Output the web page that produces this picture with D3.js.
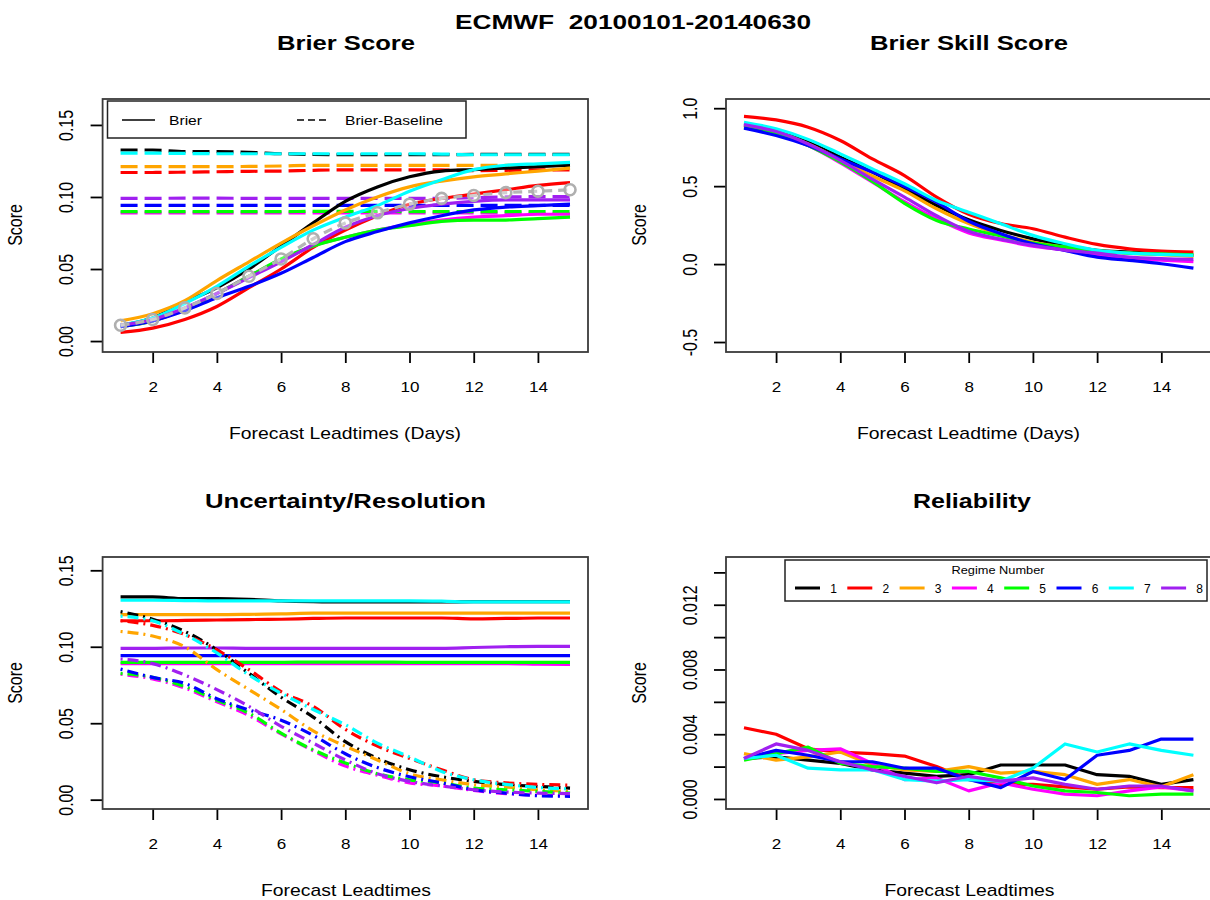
<!DOCTYPE html>
<html><head><meta charset="utf-8">
<script src="https://cdn.jsdelivr.net/npm/d3@7"></script>
<style>
body{margin:0;background:#fff}
svg{display:block}
text{font-family:"Liberation Sans",Arial,Helvetica,sans-serif;fill:#000}
</style>
</head><body>
<svg id="chart" width="1210" height="900"></svg>
<script>
// ---------------- DATA ----------------
const leadDays = [1,2,3,4,5,6,7,8,9,10,11,12,13,14,15];
const xTickValues = [2,4,6,8,10,12,14];
const regimeNames = ["1","2","3","4","5","6","7","8"];
const regimeColors = ["#000000","#FF0000","#FFA500","#FF00FF","#00FF00","#0000FF","#00FFFF","#A020F0"];

// Brier score (solid, top-left)
const brier1 = [0.011,0.016,0.027,0.037,0.050,0.066,0.082,0.097,0.107,0.114,0.118,0.119,0.120,0.121,0.122];
const brier2 = [0.006,0.009,0.015,0.024,0.037,0.050,0.065,0.077,0.087,0.095,0.099,0.102,0.105,0.108,0.110];
const brier3 = [0.014,0.019,0.028,0.042,0.055,0.068,0.080,0.091,0.100,0.107,0.111,0.114,0.116,0.118,0.120];
const brier4 = [0.010,0.014,0.022,0.033,0.045,0.056,0.066,0.072,0.077,0.081,0.084,0.086,0.087,0.088,0.088];
const brier5 = [0.010,0.014,0.022,0.033,0.045,0.057,0.066,0.072,0.077,0.080,0.083,0.084,0.084,0.085,0.086];
const brier6 = [0.010,0.014,0.021,0.030,0.038,0.047,0.058,0.069,0.076,0.082,0.087,0.091,0.093,0.094,0.095];
const brier7 = [0.011,0.016,0.026,0.038,0.052,0.065,0.077,0.086,0.094,0.104,0.112,0.119,0.122,0.123,0.124];
const brier8 = [0.011,0.015,0.023,0.033,0.044,0.055,0.067,0.079,0.087,0.092,0.095,0.097,0.098,0.098,0.098];
const brierMean = [0.011,0.015,0.023,0.033,0.045,0.057,0.071,0.082,0.089,0.095,0.099,0.101,0.103,0.104,0.105];

// Uncertainty = Brier-Baseline (dashed top-left, solid bottom-left)
const unc1 = [0.1326,0.1326,0.1315,0.1315,0.1310,0.1300,0.1295,0.1293,0.1293,0.1293,0.1293,0.1295,0.1295,0.1295,0.1295];
const unc2 = [0.1170,0.1170,0.1172,0.1175,0.1178,0.1180,0.1185,0.1188,0.1188,0.1188,0.1188,0.1182,0.1185,0.1188,0.1188];
const unc3 = [0.1210,0.1210,0.1210,0.1210,0.1212,0.1215,0.1220,0.1220,0.1220,0.1220,0.1220,0.1220,0.1220,0.1220,0.1220];
const unc4 = [0.0890,0.0890,0.0890,0.0890,0.0890,0.0890,0.0890,0.0890,0.0890,0.0890,0.0890,0.0890,0.0890,0.0887,0.0885];
const unc5 = [0.0898,0.0898,0.0898,0.0898,0.0898,0.0898,0.0900,0.0900,0.0900,0.0898,0.0898,0.0898,0.0898,0.0898,0.0898];
const unc6 = [0.0942,0.0942,0.0942,0.0942,0.0942,0.0942,0.0942,0.0942,0.0942,0.0942,0.0942,0.0942,0.0942,0.0942,0.0942];
const unc7 = [0.1304,0.1304,0.1302,0.1300,0.1300,0.1300,0.1300,0.1300,0.1300,0.1300,0.1298,0.1293,0.1293,0.1293,0.1293];
const unc8 = [0.0990,0.0990,0.0992,0.0992,0.0990,0.0990,0.0990,0.0990,0.0990,0.0990,0.0990,0.0995,0.1000,0.1002,0.1002];

// Brier skill score (top-right)
const bss1 = [0.900,0.857,0.782,0.686,0.590,0.483,0.376,0.284,0.216,0.162,0.120,0.088,0.077,0.066,0.056];
const bss2 = [0.947,0.925,0.878,0.793,0.675,0.568,0.430,0.320,0.260,0.227,0.173,0.126,0.098,0.083,0.077];
const bss3 = [0.890,0.850,0.770,0.670,0.565,0.470,0.355,0.260,0.190,0.140,0.108,0.085,0.070,0.060,0.050];
const bss4 = [0.890,0.840,0.760,0.650,0.525,0.400,0.290,0.200,0.155,0.115,0.090,0.060,0.035,0.025,0.015];
const bss5 = [0.880,0.840,0.760,0.655,0.530,0.390,0.280,0.225,0.180,0.135,0.110,0.085,0.070,0.065,0.060];
const bss6 = [0.872,0.825,0.760,0.675,0.590,0.498,0.397,0.275,0.195,0.130,0.088,0.045,0.024,0.002,-0.026];
const bss7 = [0.910,0.868,0.800,0.707,0.611,0.515,0.408,0.333,0.258,0.184,0.130,0.088,0.070,0.062,0.056];
const bss8 = [0.895,0.850,0.770,0.665,0.545,0.430,0.310,0.210,0.160,0.120,0.090,0.070,0.045,0.035,0.030];

// Resolution (dash-dot, bottom-left)
const res1 = [0.123,0.118,0.110,0.098,0.0826,0.067,0.054,0.038,0.027,0.0196,0.015,0.012,0.0098,0.0087,0.0076];
const res2 = [0.117,0.114,0.108,0.098,0.085,0.0707,0.061,0.046,0.035,0.027,0.0196,0.013,0.011,0.0100,0.0095];
const res3 = [0.110,0.107,0.100,0.085,0.072,0.059,0.045,0.035,0.026,0.017,0.013,0.0098,0.0083,0.0065,0.0054];
const res4 = [0.082,0.079,0.073,0.064,0.055,0.043,0.032,0.022,0.016,0.011,0.009,0.006,0.004,0.003,0.0025];
const res5 = [0.0826,0.080,0.074,0.065,0.0565,0.0435,0.0326,0.024,0.017,0.013,0.011,0.0076,0.0065,0.0054,0.0043];
const res6 = [0.0854,0.080,0.076,0.066,0.0587,0.052,0.042,0.030,0.021,0.015,0.011,0.0065,0.0043,0.0026,0.0022];
const res7 = [0.120,0.117,0.108,0.096,0.0815,0.0696,0.059,0.049,0.037,0.028,0.0185,0.013,0.010,0.008,0.007];
const res8 = [0.092,0.089,0.0815,0.072,0.061,0.048,0.037,0.026,0.017,0.012,0.009,0.0065,0.005,0.0043,0.004];

// Reliability (bottom-right)
const rel1 = [0.0025,0.0026,0.0024,0.0022,0.0018,0.0016,0.0014,0.0015,0.0021,0.0021,0.0021,0.0015,0.0014,0.0009,0.0012];
const rel2 = [0.0044,0.0040,0.0031,0.0029,0.0028,0.00265,0.0020,0.0012,0.0009,0.0009,0.00075,0.0006,0.00075,0.0007,0.0007];
const rel3 = [0.0028,0.0024,0.0026,0.0029,0.0021,0.0018,0.0017,0.0020,0.0016,0.0017,0.0015,0.0009,0.0012,0.00075,0.0015];
const rel4 = [0.0025,0.0028,0.0030,0.0031,0.0022,0.0012,0.0013,0.0005,0.0010,0.0006,0.0003,0.0002,0.0005,0.00075,0.0005];
const rel5 = [0.0024,0.0028,0.0032,0.0022,0.0020,0.0019,0.0017,0.0017,0.0013,0.0008,0.0005,0.0004,0.0002,0.0003,0.0003];
const rel6 = [0.0025,0.0030,0.0027,0.0023,0.0023,0.0019,0.0019,0.0012,0.0007,0.0017,0.0012,0.0027,0.0030,0.0037,0.0037];
const rel7 = [0.0025,0.0027,0.0019,0.0018,0.0018,0.0012,0.0011,0.0012,0.0011,0.0019,0.0034,0.0029,0.0034,0.0030,0.0027];
const rel8 = [0.0025,0.0034,0.0030,0.0023,0.0018,0.0014,0.0010,0.0014,0.0011,0.0013,0.0009,0.0006,0.0008,0.0008,0.0005];

const brierTicks = [0.00,0.05,0.10,0.15];
const brierTickLabels = ["0.00","0.05","0.10","0.15"];
const bssTicks = [-0.5,0.0,0.5,1.0];
const bssTickLabels = ["-0.5","0.0","0.5","1.0"];
const relTicks = [0,0.002,0.004,0.006,0.008,0.010,0.012,0.014];
const relTickLabels = ["0.000","","0.004","","0.008","","0.012",""];

const brierSeries = [brier1,brier2,brier3,brier4,brier5,brier6,brier7,brier8];
const uncSeries = [unc1,unc2,unc3,unc4,unc5,unc6,unc7,unc8];
const bssSeries = [bss1,bss2,bss3,bss4,bss5,bss6,bss7,bss8];
const resSeries = [res1,res2,res3,res4,res5,res6,res7,res8];
const relSeries = [rel1,rel2,rel3,rel4,rel5,rel6,rel7,rel8];

// ---------------- DRAWING ----------------
const svg = d3.select("#chart");
const SX = 1.22; // horizontal stretch of the original raster

function txt(g, x, y, s, o) {
  o = o || {};
  const t = g.append("text")
    .attr("x", x).attr("y", y)
    .attr("text-anchor", o.anchor || "middle")
    .attr("font-size", o.size || 16)
    .attr("font-weight", o.weight || "normal")
    .style("white-space", "pre")
    .text(s);
  if (o.len) t.attr("textLength", o.len).attr("lengthAdjust", "spacingAndGlyphs");
  if (o.rot) t.attr("x", 0).attr("y", 0).attr("transform", `translate(${x},${y}) scale(${o.sx||SX},1) rotate(-90)`);
  return t;
}

const xDomain = [0.44, 15.56];
function makePanel(box, yDomain, yTicks, yLabels, labOffset) {
  const x = d3.scaleLinear().domain(xDomain).range([box.x0, box.x1]);
  const y = d3.scaleLinear().domain(yDomain).range([box.y1, box.y0]);
  const g = svg.append("g");
  const xa = g.append("g").attr("transform", `translate(0,${box.y1})`)
    .call(d3.axisBottom(x).tickValues(xTickValues).tickSize(11).tickSizeOuter(0));
  xa.select(".domain").remove();
  xa.selectAll("line").attr("stroke", "#000").attr("stroke-width", 1.8);
  xa.selectAll("text").attr("y", 0).attr("dy", 0)
    .attr("transform", "translate(0,40) scale(1.1,1)")
    .attr("font-size", 15.5).attr("fill", "#000")
    .attr("font-family", '"Liberation Sans",Arial,sans-serif');
  const ya = g.append("g").attr("transform", `translate(${box.x0},0)`)
    .call(d3.axisLeft(y).tickValues(yTicks).tickSize(12).tickSizeOuter(0)
      .tickFormat((d, i) => yLabels[i]));
  ya.select(".domain").remove();
  ya.selectAll("line").attr("stroke", "#000").attr("stroke-width", 1.8);
  ya.selectAll("text").attr("x", 0).attr("y", 0).attr("dy", 0)
    .attr("text-anchor", "middle")
    .attr("transform", `translate(${labOffset},0) scale(1.3,1) rotate(-90)`)
    .attr("font-size", 16).attr("fill", "#000")
    .attr("font-family", '"Liberation Sans",Arial,sans-serif');
  const clipId = "clip" + Math.round(box.x0) + "_" + Math.round(box.y0);
  g.append("clipPath").attr("id", clipId).append("rect")
    .attr("x", box.x0).attr("y", box.y0).attr("width", box.x1 - box.x0).attr("height", box.y1 - box.y0);
  const plot = g.append("g").attr("clip-path", `url(#${clipId})`);
  return {g, plot, x, y, box};
}
function frame(p) {
  p.g.append("rect").attr("x", p.box.x0).attr("y", p.box.y0)
    .attr("width", p.box.x1 - p.box.x0).attr("height", p.box.y1 - p.box.y0)
    .attr("fill", "none").attr("stroke", "#3a3a3a").attr("stroke-width", 1.8);
}
function drawLine(p, vals, color, dash, curve, width) {
  const line = d3.line().x((d, i) => p.x(leadDays[i])).y(d => p.y(d)).curve(curve || d3.curveMonotoneX);
  p.plot.append("path").datum(vals).attr("d", line)
    .attr("fill", "none").attr("stroke", color).attr("stroke-width", width || 3.2)
    .attr("stroke-dasharray", dash || null).attr("stroke-linejoin", "round");
}

const boxTL = {x0: 102.6, x1: 588, y0: 99, y1: 352};
const boxTR = {x0: 726, x1: 1211.4, y0: 99, y1: 352};
const boxBL = {x0: 102.6, x1: 588, y0: 557, y1: 809};
const boxBR = {x0: 726, x1: 1211.4, y0: 557, y1: 809};

// Titles
txt(svg, 633, 29, "ECMWF  20100101-20140630", {size: 20, weight: "bold", len: 356});
txt(svg, 346, 50, "Brier Score", {size: 21, weight: "bold", len: 138});
txt(svg, 969, 50, "Brier Skill Score", {size: 21, weight: "bold", len: 198});
txt(svg, 345.5, 508, "Uncertainty/Resolution", {size: 21, weight: "bold", len: 281});
txt(svg, 972, 508, "Reliability", {size: 21, weight: "bold", len: 118});

// ---- Top-left: Brier score
const pTL = makePanel(boxTL, [-0.0076, 0.168], brierTicks, brierTickLabels, -30);
uncSeries.forEach((s, i) => drawLine(pTL, s, regimeColors[i], "17,7"));
brierSeries.forEach((s, i) => drawLine(pTL, s, regimeColors[i]));
drawLine(pTL, brierMean, "#B5B5B5", "9,6");
pTL.plot.selectAll("circle.m").data(brierMean).enter().append("circle")
  .attr("cx", (d, i) => pTL.x(leadDays[i])).attr("cy", d => pTL.y(d)).attr("r", 5.5)
  .attr("fill", "#fff").attr("fill-opacity", 0.35).attr("stroke", "#AFAFAF").attr("stroke-width", 2.6);
frame(pTL);
pTL.g.append("rect").attr("x", 107.5).attr("y", 101).attr("width", 358.5).attr("height", 37)
  .attr("fill", "#fff").attr("stroke", "#222").attr("stroke-width", 1.5);
pTL.g.append("line").attr("x1", 122).attr("x2", 155).attr("y1", 120).attr("y2", 120).attr("stroke", "#000").attr("stroke-width", 1.4);
pTL.g.append("line").attr("x1", 297).attr("x2", 328).attr("y1", 120).attr("y2", 120).attr("stroke", "#000").attr("stroke-width", 1.4).attr("stroke-dasharray", "7,4");
txt(pTL.g, 169, 125, "Brier", {size: 13, anchor: "start", len: 33});
txt(pTL.g, 345, 125, "Brier-Baseline", {size: 13, anchor: "start", len: 98});
txt(svg, 22, 225, "Score", {size: 16, rot: true});
txt(svg, 345, 439, "Forecast Leadtimes (Days)", {size: 17, len: 232});

// ---- Top-right: Brier skill score
const pTR = makePanel(boxTR, [-0.564, 1.059], bssTicks, bssTickLabels, -29);
bssSeries.forEach((s, i) => drawLine(pTR, s, regimeColors[i]));
frame(pTR);
txt(svg, 646, 225, "Score", {size: 16, rot: true});
txt(svg, 968.5, 439, "Forecast Leadtime (Days)", {size: 17, len: 223});

// ---- Bottom-left: Uncertainty / Resolution
const pBL = makePanel(boxBL, [-0.0061, 0.1587], brierTicks, brierTickLabels, -30);
uncSeries.forEach((s, i) => drawLine(pBL, s, regimeColors[i]));
resSeries.forEach((s, i) => drawLine(pBL, s, regimeColors[i], "2,5,11,5"));
frame(pBL);
txt(svg, 22, 683, "Score", {size: 16, rot: true});
txt(svg, 346, 896, "Forecast Leadtimes", {size: 17, len: 170});

// ---- Bottom-right: Reliability
const pBR = makePanel(boxBR, [-0.00062, 0.01495], relTicks, relTickLabels, -29);
relSeries.forEach((s, i) => drawLine(pBR, s, regimeColors[i], null, d3.curveLinear));
frame(pBR);
txt(svg, 646, 683, "Score", {size: 16, rot: true});
txt(svg, 969.5, 896, "Forecast Leadtimes", {size: 17, len: 170});
const lg = pBR.g.append("g");
lg.append("rect").attr("x", 785).attr("y", 560).attr("width", 422).attr("height", 41)
  .attr("fill", "#fff").attr("stroke", "#222").attr("stroke-width", 1.5);
txt(lg, 998, 574, "Regime Number", {size: 11, len: 93});
regimeNames.forEach((n, i) => {
  const lx = 795 + 52.3 * i;
  lg.append("line").attr("x1", lx).attr("x2", lx + 25).attr("y1", 588).attr("y2", 588)
    .attr("stroke", regimeColors[i]).attr("stroke-width", 3);
  txt(lg, lx + 38.5, 592.5, n, {size: 12});
});
</script>
</body></html>
